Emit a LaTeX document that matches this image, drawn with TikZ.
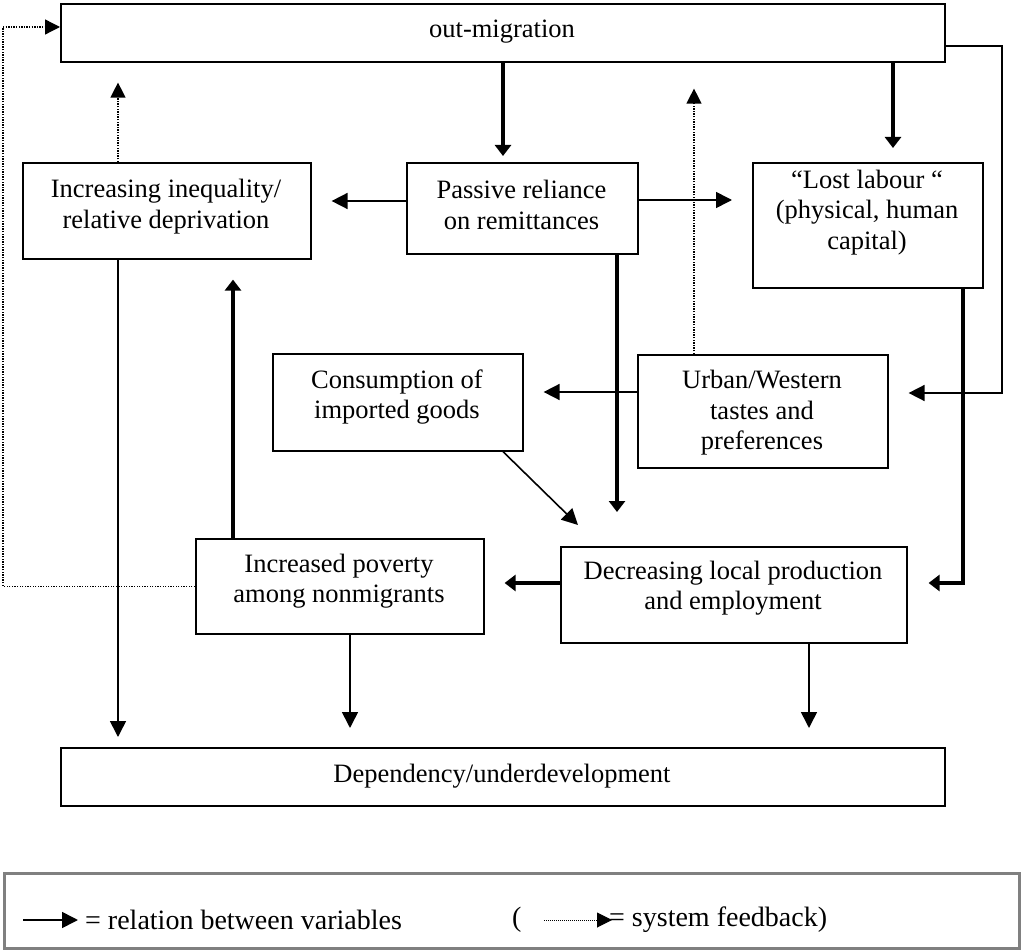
\documentclass[tikz,border=0pt]{standalone}
\usepackage{fontspec}
\setmainfont{Liberation Serif}
\usetikzlibrary{arrows.meta}
\begin{document}
\begin{tikzpicture}[x=1pt,y=-1pt,
  box/.style={draw, line width=1.6pt, rectangle, inner sep=0pt, anchor=north west},
  txt/.style={align=center, inner sep=0pt, font=\fontsize{26.5}{30.5}\selectfont},
  lgtxt/.style={inner sep=0pt, anchor=west, font=\fontsize{28}{32}\selectfont},
  thn/.style={line width=1.6pt, -{Triangle[length=16pt,width=16pt]}},
  thk/.style={line width=4pt, -{Triangle[length=11pt,width=16pt]}},
  fb/.style={line width=1.3pt, dash pattern=on 1.3pt off 1.3pt, -{Triangle[length=15pt,width=15pt]}},
  fbl/.style={line width=1.3pt, dash pattern=on 1.3pt off 1.3pt}]
\useasboundingbox (0,0) rectangle (1021,952);
% boxes
\node[box, minimum width=884pt, minimum height=58pt] (om) at (60,3) {};
\node[box, minimum width=288pt, minimum height=96pt] (ineq) at (22,162) {};
\node[box, minimum width=231pt, minimum height=91pt] (pa) at (406,162) {};
\node[box, minimum width=230pt, minimum height=125pt] (ll) at (752,162) {};
\node[box, minimum width=250pt, minimum height=97pt] (cons) at (272,353) {};
\node[box, minimum width=250pt, minimum height=113pt] (urb) at (637,354) {};
\node[box, minimum width=288pt, minimum height=95pt] (pov) at (195,538) {};
\node[box, minimum width=346pt, minimum height=96pt] (dec) at (560,546) {};
\node[box, minimum width=884pt, minimum height=58pt] (dep) at (60,747) {};
% texts
\node[txt] (omT) at (502,32) {out-migration};
\node[txt] (ineqT) at (166,206.5) {Increasing inequality/\\relative deprivation};
\node[txt] (paT) at (521.5,205) {Passive reliance\\on remittances};
\node[txt] (llT) at (867,212.5) {``Lost labour ``\\(physical, human\\capital)};
\node[txt] (consT) at (397,397) {Consumption of\\imported goods};
\node[txt] (urbT) at (762,413) {Urban/Western\\tastes and\\preferences};
\node[txt] (povT) at (339,581) {Increased poverty\\among nonmigrants};
\node[txt] (decT) at (733,588) {Decreasing local production\\and employment};
\node[txt] (depT) at (502,776) {Dependency/underdevelopment};
% free ends
\coordinate (paDown) at (617,512);
\coordinate (consDiag) at (578,525);
% connectors
\draw[thk, shorten >=6pt] (503,0 |- om.south) -- (503,0 |- pa.north);
\draw[thk, shorten >=14pt] (893,0 |- om.south) -- (893,0 |- ll.north);
\draw[thn, shorten >=20pt] (om.east |- 0,46) -- (1002,46) -- (1002,393) -- (urb.east |- 0,393);
\draw[thn, shorten >=20pt] (pa.west |- 0,201) -- (ineq.east |- 0,201);
\draw[thn, shorten >=20pt] (pa.east |- 0,200) -- (ll.west |- 0,200);
\draw[fb, shorten >=20pt] (118,0 |- ineq.north) -- (118,0 |- om.south);
\draw[fb, shorten >=26pt] (694,0 |- urb.north) -- (694,0 |- om.south);
\draw[thn, shorten >=10pt] (118,0 |- ineq.south) -- (118,0 |- dep.north);
\draw[thk] (617,0 |- pa.south) -- (paDown);
\draw[thn] (503,0 |- cons.south) -- (consDiag);
\draw[thn, shorten >=20pt] (urb.west |- 0,392) -- (cons.east |- 0,392);
\draw[thk, shorten >=21pt] (963,0 |- ll.south) -- (963,583) -- (dec.east |- 0,583);
\draw[thk, shorten >=20pt] (233,0 |- pov.north) -- (233,0 |- ineq.south);
\draw[thk, shorten >=20pt] (dec.west |- 0,583) -- (pov.east |- 0,583);
\draw[fb] (pov.west) -- (3,0 |- pov.west) -- (3,27) -- (om.west |- 0,27);
\draw[thn, shorten >=19pt] (350,0 |- pov.south) -- (350,0 |- dep.north);
\draw[thn, shorten >=19pt] (809,0 |- dec.south) -- (809,0 |- dep.north);
% legend
\node[box, draw=black!50, line width=3pt, minimum width=1015pt, minimum height=75pt] (lg) at (3,872) {};
\coordinate (lgA1) at (23,920);
\coordinate (lgA2) at (78,920);
\draw[thn] (lgA1) -- (lgA2);
\node[lgtxt] (lg1) at (85,920) {= relation between variables};
\node[lgtxt] (lgP) at (512,920) {(};
\coordinate (lgB1) at (544,920);
\coordinate (lgB2) at (612,920);
\draw[fb, line width=1pt, dash pattern=on 1pt off 1pt] (lgB1) -- (lgB2);
\node[lgtxt] (lg2) at (609,920) {= system feedback)};
\end{tikzpicture}
\end{document}
